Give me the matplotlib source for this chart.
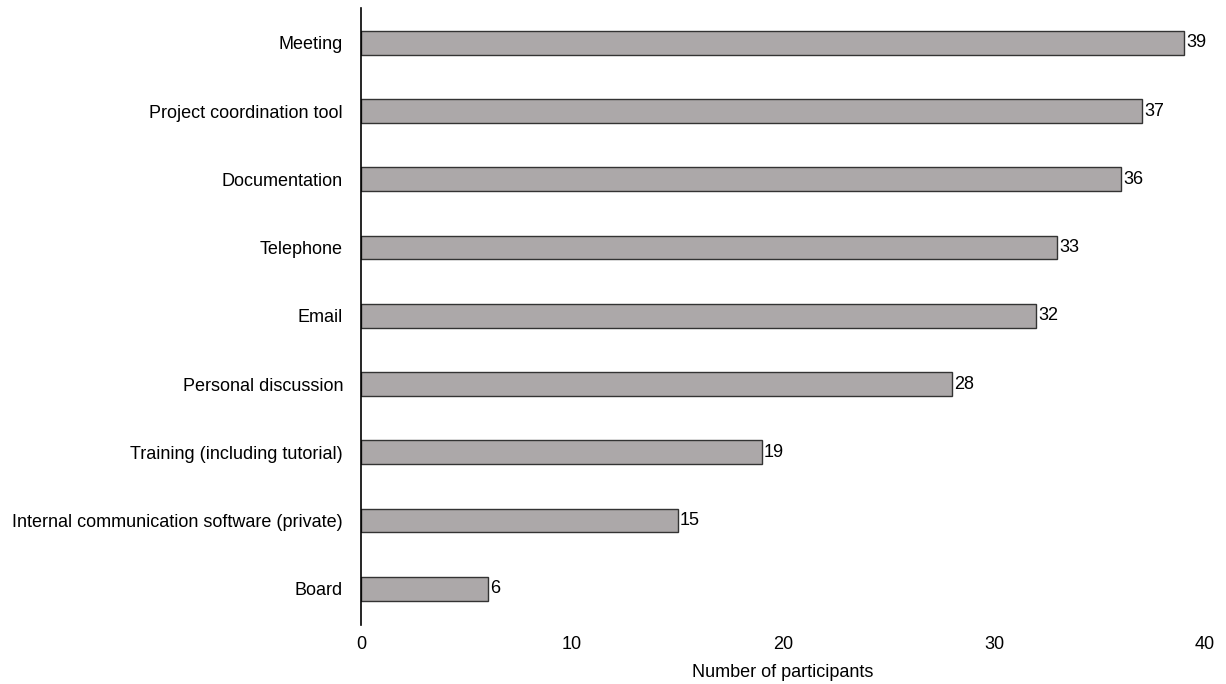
import matplotlib.pyplot as plt

categories = ['Meeting', 'Project coordination tool', 'Documentation', 'Telephone',
              'Email', 'Personal discussion', 'Training (including tutorial)',
              'Internal communication software (private)', 'Board']
values = [39, 37, 36, 33, 32, 28, 19, 15, 6]

plt.rcParams['font.family'] = ['Liberation Sans', 'DejaVu Sans']

fig = plt.figure(figsize=(12.26, 6.84), dpi=100)
ax = fig.add_axes([0.2945, 0.0863, 0.6885, 0.9020])

pos = list(range(len(categories)))[::-1]
bars = ax.barh(pos, values, height=0.35, color='#aca8a9', edgecolor='#333333', linewidth=1)

for b, v in zip(bars, values):
    ax.text(v + 0.1, b.get_y() + b.get_height() / 2, str(v), va='center', ha='left', fontsize=13)

ax.set_yticks(pos)
ax.set_yticklabels(categories, fontsize=13)
ax.set_xlim(0, 40)
ax.set_ylim(-0.53, 8.51)
ax.set_xticks([0, 10, 20, 30, 40])
ax.tick_params(axis='x', length=0, pad=8, labelsize=13)
ax.tick_params(axis='y', length=0, pad=13)
ax.set_xlabel('Number of participants', fontsize=13, labelpad=8)

for s in ['top', 'right', 'bottom']:
    ax.spines[s].set_visible(False)
ax.spines['left'].set_color('black')
ax.spines['left'].set_linewidth(1.2)

fig.savefig('out.png', dpi=100)
